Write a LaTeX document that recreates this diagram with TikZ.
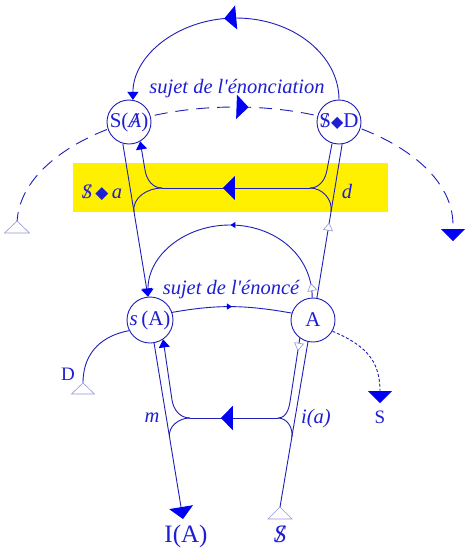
\documentclass[tikz,border=0pt]{standalone}
\usepackage{fontspec}
\setmainfont{Liberation Serif}[Ligatures=TeXOff]
\newfontfamily\djv{DejaVu Sans}
\usetikzlibrary{arrows.meta,decorations.markings,calc}
\pgfdeclarelayer{back}
\pgfdeclarelayer{mid}
\pgfsetlayers{back,mid,main}
\definecolor{lc}{RGB}{30,30,185}
\definecolor{tc}{RGB}{30,30,210}
\definecolor{ac}{RGB}{0,0,245}
\definecolor{oc}{RGB}{150,150,215}
\definecolor{yel}{RGB}{255,240,0}
\newcommand\bS{\ooalign{S\cr\hidewidth/\hidewidth\cr}}
\newcommand\bA{\ooalign{\itshape A\cr\hidewidth\itshape/\hidewidth\cr}}
\newcommand\dmd{{\djv\fontsize{16}{16}\selectfont ◆}}
\tikzset{
 bigtip/.tip={Triangle[width=24pt,length=12pt,color=ac]},
 smalltip/.tip={Triangle[width=11pt,length=8pt,color=ac]},
 tinytip/.tip={Triangle[width=6pt,length=5pt,color=ac]},
 otip/.tip={Triangle[width=10pt,length=8pt,color=oc,fill=white,line width=0.6pt]},
 ln/.style={draw=lc,line width=0.9pt},
 marr/.style 2 args={postaction={decorate,decoration={markings,mark=at position #1 with {\arrow{#2}}}}},
 circ/.style={circle,draw=lc,line width=0.9pt,fill=white,minimum size=44pt,inner sep=0pt,text=tc,font=\fontsize{21}{24}\selectfont},
 lab/.style={text=tc,inner sep=0pt,font=\fontsize{20.5}{24}\selectfont\itshape},
 rlab/.style={text=tc,inner sep=0pt,font=\fontsize{19}{22}\selectfont},
 blab/.style={text=tc,inner sep=0pt,font=\fontsize{25}{28}\selectfont},
 opentri/.style={draw=oc,fill=white,line width=0.6pt},
}
\begin{document}
\begin{tikzpicture}[x=1pt,y=-1pt]
\useasboundingbox (0,0) rectangle (476,555);
\begin{pgfonlayer}{back}
\fill[white] (0,0) rectangle (476,555);
\fill[yel] (73,163) rectangle (388,212);
\end{pgfonlayer}

% nodes
\node[circ] (SA) at (129,122) {S(\bA)};
\node[circ] (SD) at (339,122) {\bS\dmd D};
\node[circ,minimum size=46pt] (sA) at (150,320) {\textit{s}\,(A)};
\node[circ] (A) at (313,320) {A};
\node[lab,anchor=base] (enonciation) at (237,93) {sujet de l'énonciation};
\node[lab,anchor=base] (enonce) at (231,294) {sujet de l'énoncé};
\node[lab,anchor=base] (Sa) at (102,198) {\bS\,{\djv\fontsize{17}{17}\selectfont ◆}\,a};
\node[lab,anchor=base] (dl) at (347,198) {d};
\node[lab,anchor=base] (ml) at (152,422) {m};
\node[lab,anchor=base] (ial) at (316,423) {i(a)};
\node[rlab,anchor=base] (Dl) at (68,380) {D};
\node[rlab,anchor=base] (Sl) at (380,423) {S};
\node[blab,anchor=base] (IA) at (186,542) {I(A)};
\node[blab,anchor=base,font=\fontsize{25}{28}\selectfont\itshape] (Sb) at (280,542) {\bS};

\coordinate (tl) at (162,188);
\coordinate (tr) at (310,188);
\coordinate (bl) at (190,418);
\coordinate (br) at (278,418);
\coordinate (Dtip) at (83,383);
\coordinate (Stip) at (380,403);
\coordinate (Sbtip) at (280,507);
\coordinate (IAtip) at (183,519);
\coordinate (dL) at (17,225);
\coordinate (dR) at (453,241);

\begin{pgfonlayer}{mid}
% upper big arc
\draw[ln,-{smalltip},marr={0.54}{bigtip}] (SD.90) .. controls (339,55) and (293,18) .. (236,18) .. controls (179,18) and (133,55) .. (SA.80);
% dashed chain
\draw[ln,dash pattern=on 13pt off 8pt,-{bigtip},marr={0.51}{bigtip}] (dL) arc[start angle=180,end angle=0,x radius=218pt,y radius=118pt] -- (dR);
\draw[opentri] (17,221) -- (4.5,233) -- (29.5,233) -- cycle;
% straight lines top
\draw[ln,-{smalltip}] (SA.254) -- (sA.95);
\draw[ln,marr={0.49}{otip}] (A.80) -- (SD.278);
% top hook
\draw[ln] (SD.252) -- (327,170) to[out=-100,in=0] (tr);
\draw[ln,marr={0.588}{bigtip}] (tr) -- (tl);
\draw[ln,-{smalltip}] (tl) to[out=180,in=-81] (145,170) -- (SA.300);
\draw[ln] (tl) to[out=180,in=99] ($(SA.254)!0.447!(sA.95)$);
\draw[ln] (tr) to[out=0,in=81] ($(SD.278)!0.441!(A.80)$);
% lower arc
\draw[ln,-{smalltip},marr={0.5}{tinytip},marr={0.06}{otip}] (A.92) .. controls (312,255) and (275,225) .. (230,225) .. controls (185,225) and (148,255) .. (sA.95);
% lower chain
\draw[ln] (Dtip) .. controls (83,350) and (105,335) .. (sA.207);
\draw[opentri] (Dtip) -- ++(-11.5,11) -- ++(23,0) -- cycle;
\draw[ln,marr={0.5}{tinytip}] (sA.19) to[out=10,in=170] (A.162);
\draw[ln,dash pattern=on 3pt off 2pt,-{bigtip}] (A.-30) .. controls (365,345) and (380,360) .. (Stip);
% bottom lines
\draw[ln,-{bigtip}] (sA.280) -- (IAtip);
\draw[ln] (Sbtip) -- (A.-103);
\draw[opentri] (Sbtip) -- ++(-12,12) -- ++(24,0) -- cycle;
% bottom hook
\draw[ln,marr={0.2}{otip}] (A.-126) -- (290,402);
\draw[ln] (290,402) to[out=-99,in=0] (br);
\draw[ln,marr={0.65}{bigtip}] (br) -- (bl);
\draw[ln,-{smalltip}] (bl) to[out=180,in=-81] (172,400) -- (sA.304);
\draw[ln] (bl) to[out=180,in=99] ($(sA.280)!0.535!(IAtip)$);
\draw[ln] (br) to[out=0,in=81] ($(A.-103)!0.577!(Sbtip)$);
\end{pgfonlayer}
\end{tikzpicture}
\end{document}
